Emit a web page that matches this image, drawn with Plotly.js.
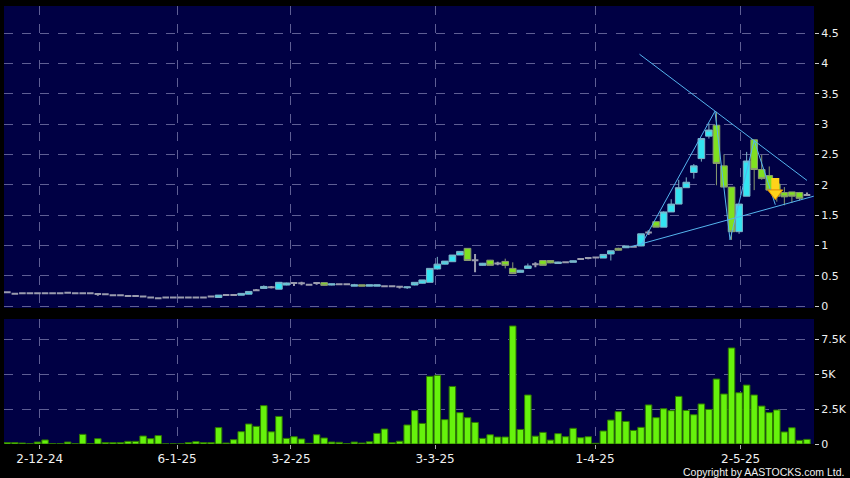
<!DOCTYPE html>
<html><head><meta charset="utf-8">
<script src="https://cdn.plot.ly/plotly-3.0.1.min.js"></script>
<style>html,body{margin:0;padding:0;background:#000;}#chart{width:850px;height:478px;}</style>
</head><body><div id="chart"></div>
<script>
// ---- data (daily candles, index 0..106) ----
const openP = [0.225,0.20,0.21,0.21,0.21,0.21,0.21,0.21,0.22,0.21,
0.21,0.21,0.198,0.192,0.176,0.176,0.165,0.165,0.155,0.14,
0.126,0.14,0.14,0.14,0.14,0.14,0.14,0.155,0.14,0.18,
0.18,0.178,0.195,0.26,0.29,0.31,0.277,0.345,0.38,0.375,
0.35,0.378,0.385,0.345,0.36,0.357,0.327,0.35,0.327,0.327,
0.325,0.325,0.318,0.30,0.346,0.375,0.39,0.61,0.69,0.73,
0.84,0.95,0.755,0.67,0.755,0.70,0.735,0.62,0.555,0.62,
0.687,0.75,0.75,0.70,0.72,0.72,0.775,0.79,0.80,0.79,
0.857,0.95,0.96,0.975,0.99,1.21,1.39,1.30,1.55,1.68,
1.95,2.20,2.43,2.80,2.98,2.31,1.96,1.225,1.81,2.74,
2.25,2.15,2.01,1.87,1.88,1.87,1.83];
const highP = [0.225,0.21,0.21,0.21,0.21,0.21,0.21,0.21,0.236,0.21,
0.21,0.21,0.209,0.192,0.176,0.176,0.175,0.165,0.165,0.148,
0.126,0.14,0.14,0.14,0.14,0.14,0.14,0.165,0.18,0.18,
0.195,0.21,0.242,0.28,0.34,0.33,0.39,0.385,0.385,0.40,
0.36,0.385,0.39,0.368,0.36,0.357,0.365,0.35,0.35,0.35,
0.325,0.325,0.325,0.32,0.39,0.43,0.62,0.81,0.74,0.84,
0.905,0.95,0.857,0.71,0.76,0.73,0.78,0.72,0.595,0.70,
0.72,0.755,0.755,0.73,0.72,0.75,0.775,0.79,0.80,0.85,
0.91,0.96,0.995,0.975,1.19,1.25,1.39,1.56,1.76,2.08,
2.12,2.34,2.76,3.01,3.20,2.50,1.96,1.68,2.54,2.74,
2.49,2.30,2.03,1.96,1.88,1.88,1.87];
const lowP = [0.225,0.19,0.21,0.21,0.21,0.21,0.21,0.21,0.21,0.21,
0.21,0.21,0.17,0.192,0.176,0.176,0.165,0.165,0.143,0.132,
0.126,0.14,0.14,0.14,0.14,0.14,0.14,0.143,0.137,0.18,
0.165,0.176,0.193,0.245,0.285,0.29,0.275,0.34,0.33,0.34,
0.34,0.35,0.335,0.34,0.36,0.357,0.325,0.325,0.325,0.325,
0.325,0.325,0.29,0.28,0.34,0.37,0.39,0.60,0.685,0.73,
0.84,0.745,0.555,0.665,0.67,0.67,0.62,0.53,0.55,0.615,
0.64,0.665,0.705,0.70,0.72,0.72,0.775,0.77,0.80,0.79,
0.75,0.915,0.955,0.975,0.985,1.17,1.30,1.30,1.55,1.68,
1.95,2.10,2.38,2.76,1.99,1.96,1.09,1.19,1.81,1.91,
2.08,1.88,1.72,1.66,1.70,1.74,1.82];
const closeP = [0.225,0.20,0.21,0.21,0.21,0.21,0.21,0.21,0.22,0.21,
0.21,0.21,0.198,0.192,0.176,0.176,0.165,0.165,0.155,0.14,
0.126,0.14,0.14,0.14,0.14,0.14,0.14,0.155,0.18,0.18,
0.18,0.208,0.24,0.26,0.322,0.31,0.39,0.38,0.38,0.375,
0.35,0.378,0.34,0.365,0.36,0.357,0.35,0.327,0.35,0.35,
0.325,0.325,0.318,0.315,0.39,0.43,0.62,0.69,0.74,0.84,
0.90,0.75,0.755,0.705,0.67,0.70,0.67,0.535,0.59,0.66,
0.687,0.67,0.71,0.725,0.72,0.745,0.775,0.79,0.80,0.85,
0.91,0.92,0.99,0.975,1.19,1.21,1.30,1.55,1.68,1.95,
2.04,2.31,2.76,2.90,2.35,1.96,1.225,1.68,2.39,2.25,
2.10,1.91,1.81,1.80,1.81,1.775,1.83];
const volumeK = [0.10,0.10,0.07,0.02,0.14,0.29,0.02,0.02,0.14,0.02,
0.69,0.02,0.38,0.10,0.10,0.10,0.19,0.19,0.57,0.38,
0.60,0.01,0.01,0.01,0.10,0.17,0.10,0.10,1.17,0.07,
0.31,0.88,1.43,1.26,2.74,0.87,1.97,0.40,0.52,0.36,
0.05,0.66,0.43,0.14,0.12,0.02,0.14,0.07,0.16,0.76,
1.07,0.10,0.20,1.36,2.38,1.47,4.83,4.90,1.74,4.11,
2.24,1.88,1.54,0.40,0.66,0.50,0.50,8.43,1.04,3.50,
0.56,0.83,0.28,0.74,0.52,1.12,0.45,0.52,0.05,0.93,
1.71,2.31,1.61,0.97,1.19,2.79,1.88,2.52,2.38,3.40,
2.40,2.09,2.86,2.47,4.64,3.57,6.86,3.66,4.21,3.50,
2.71,2.24,2.43,0.86,1.16,0.26,0.33];
const tickIdx = [4.3, 22.5, 37.6, 56.7, 77.9, 97.2];
const tickLabels = ['2-12-24','6-1-25','3-2-25','3-3-25','1-4-25','2-5-25'];
const priceTicks = [0,0.5,1,1.5,2,2.5,3,3.5,4,4.5];
const volTicks = [0,2.5,5,7.5];
const volTickLabels = ['0','2.5K','5K','7.5K'];
// drawn trendlines (index, price)
const upperLineX = [83.8, 106.0], upperLineY = [4.15, 2.07];
const lowerLineX = [82.6, 106.9], lowerLineY = [0.975, 1.81];
const zigX = [84.0, 93.8, 95.8, 99.0, 101.8], zigY = [1.0, 3.21, 1.09, 2.73, 1.67];
// yellow arrow marker
const arrowX = 101.8, arrowTop = 2.11, arrowShaftEnd = 1.90, arrowHead = 1.86;

const idx = openP.map((_, i) => i);
function pick(cond) {
  const s = {x:[],open:[],high:[],low:[],close:[]};
  idx.forEach(i => { if (cond(openP[i], closeP[i])) {
    s.x.push(i); s.open.push(openP[i]); s.high.push(highP[i]); s.low.push(lowP[i]); s.close.push(closeP[i]); }});
  return s;
}
function candle(s, fill, line, w) {
  const st = {fillcolor: fill, line: {color: line, width: w}};
  return Object.assign({type:'candlestick', xaxis:'x', yaxis:'y', increasing: st, decreasing: st,
    whiskerwidth: 0, hoverinfo:'skip', showlegend:false}, s);
}
const up = pick((o,c)=>c>o), dn = pick((o,c)=>c<o), fl = pick((o,c)=>c===o);
const traces = [
  {type:'bar', x: idx, y: volumeK, xaxis:'x', yaxis:'y2', marker:{color:'#66f20c', line:{color:'#2e7800', width:1}}, hoverinfo:'skip', showlegend:false},
  candle(fl, '#9a9cae', '#9a9cae', 2),
  candle(up, '#33e4f2', '#7fb4c8', 1),
  candle(dn, '#80e020', '#8a9c70', 1),
  {type:'scatter', mode:'lines', x: upperLineX, y: upperLineY, line:{color:'#55b4ee', width:1}, hoverinfo:'skip', showlegend:false},
  {type:'scatter', mode:'lines', x: lowerLineX, y: lowerLineY, line:{color:'#55b4ee', width:1}, hoverinfo:'skip', showlegend:false},
  {type:'scatter', mode:'lines', x: zigX, y: zigY, line:{color:'#55b4ee', width:1}, hoverinfo:'skip', showlegend:false},
  {type:'scatter', mode:'lines', x: [arrowX, arrowX], y: [arrowTop, arrowShaftEnd], line:{color:'#ffd21a', width:8}, hoverinfo:'skip', showlegend:false},
  {type:'scatter', mode:'markers', x: [arrowX], y: [arrowHead], marker:{symbol:'triangle-down', size:13, color:'#ffd21a', line:{color:'#e08a00', width:1}}, hoverinfo:'skip', showlegend:false}
];
const grid = 'rgba(125,125,175,0.75)';
const tf = {family:'DejaVu Sans, sans-serif', size:11, color:'#f0f0f0'};
const layout = {
  width:850, height:478, margin:{l:4, r:36, t:6, b:34},
  paper_bgcolor:'#000000', plot_bgcolor:'#000044',
  showlegend:false, hovermode:false, boxgap:0.12, boxgroupgap:0, boxmode:'overlay', bargap:0.14,
  xaxis:{domain:[0,1], anchor:'y2', range:[-0.44,106.93], tickvals:tickIdx, ticktext:tickLabels,
    ticks:'outside', ticklen:4, tickcolor:'#aaaaaa', showgrid:true, gridcolor:grid, griddash:'dash', gridwidth:1,
    zeroline:false, showline:false, rangeslider:{visible:false}, fixedrange:true,
    tickfont:{family:'DejaVu Sans, sans-serif', size:12, color:'#f0f0f0'}},
  yaxis:{domain:[0.3105,1], anchor:'x', side:'right', range:[-0.033,4.945], tickvals:priceTicks,
    ticks:'outside', ticklen:4, tickcolor:'#cccccc', showgrid:true, gridcolor:grid, griddash:'dash',
    zeroline:false, showline:false, tickfont:tf, fixedrange:true},
  yaxis2:{domain:[0,0.2854], anchor:'x', side:'right', range:[0,8.93], tickvals:volTicks, ticktext:volTickLabels,
    ticks:'outside', ticklen:4, tickcolor:'#cccccc', showgrid:true, gridcolor:grid, griddash:'dash',
    zeroline:false, showline:false, tickfont:tf, fixedrange:true},
  annotations:[{text:'Copyright by AASTOCKS.com Ltd.', xref:'paper', yref:'paper', x:1.0395, y:-0.063,
    xanchor:'right', yanchor:'middle', showarrow:false, font:{family:'Liberation Sans, Arial, sans-serif', size:10.5, color:'#f0f0f0'}}]
};
Plotly.newPlot('chart', traces, layout, {displayModeBar:false, staticPlot:true});
</script></body></html>
